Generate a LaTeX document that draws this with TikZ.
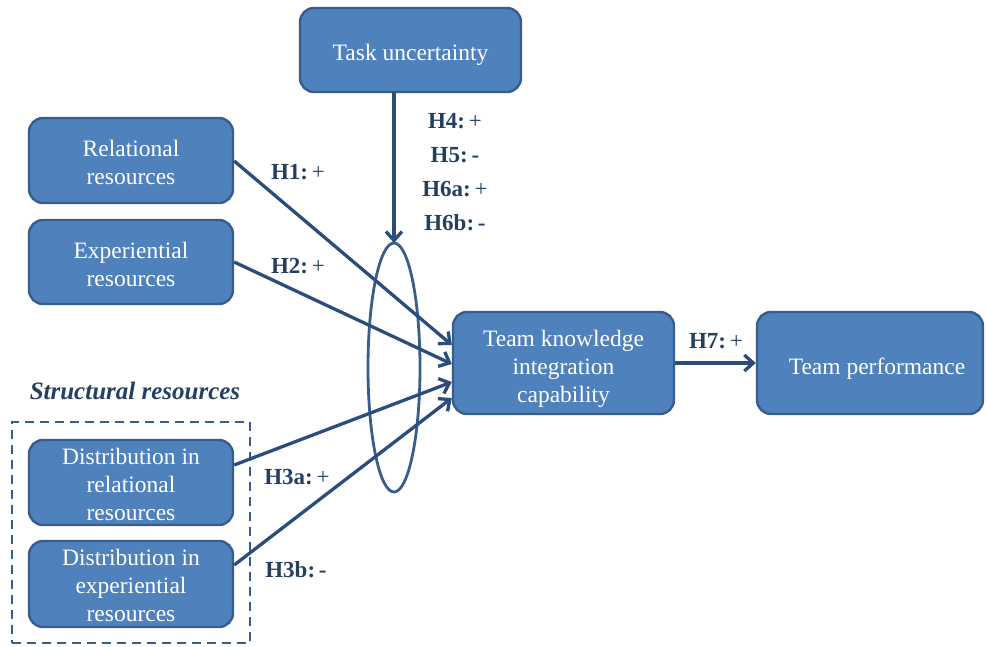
\documentclass[tikz,border=0pt]{standalone}
\usepackage{fontspec}
\setmainfont{Liberation Serif}
\usetikzlibrary{arrows.meta,shapes.geometric}
\definecolor{boxfill}{HTML}{4F81BD}
\definecolor{boxline}{HTML}{385D8A}
\definecolor{arr}{HTML}{2A4D7C}
\definecolor{lab}{HTML}{243F60}
\begin{document}
\begin{tikzpicture}[x=1pt,y=-1pt,
  box/.style={draw=boxline,fill=boxfill,line width=2.4pt,rounded corners=14pt,inner sep=0pt},
  bt/.style={text=white,align=center,font=\fontsize{23.5}{28}\selectfont,inner sep=0pt},
  conn/.style={draw=arr,line width=3.3pt,-{Straight Barb[length=9pt,width=16pt,line width=3.3pt]}},
  hyp/.style={text=lab,font=\fontsize{23}{24}\selectfont,inner sep=0pt},
]
\useasboundingbox (0,0) rectangle (986,646);
\node[box,minimum width=221pt,minimum height=84pt,
  label={[bt,yshift=-5pt]center:Task uncertainty}] (task) at (410.5,50) {};
\node[box,minimum width=204pt,minimum height=85pt,
  label={[bt,yshift=-2pt]center:Relational\\resources}] (rel) at (131,160.5) {};
\node[box,minimum width=204pt,minimum height=84pt,
  label={[bt,yshift=-2pt]center:Experiential\\resources}] (exp) at (131,262) {};
\node[box,minimum width=204pt,minimum height=85pt,
  label={[bt,yshift=-2pt]center:Distribution in\\relational\\resources}] (drel) at (131,482.5) {};
\node[box,minimum width=204pt,minimum height=86pt,
  label={[bt,yshift=-1.5pt]center:Distribution in\\experiential\\resources}] (dexp) at (131,584) {};
\node[box,minimum width=221pt,minimum height=102pt,
  label={[bt,yshift=-5.5pt]center:Team knowledge\\integration\\capability}] (tkic) at (563.5,363) {};
\node[box,minimum width=226pt,minimum height=102pt,
  label={[bt,yshift=-6pt,xshift=7pt]center:Team performance}] (perf) at (870,363) {};
\node[draw=boxline,line width=2.4pt,dash pattern=on 9pt off 6pt,minimum width=238pt,minimum height=221pt,inner sep=0pt] (struct) at (131,532.5) {};
\node[text=lab,font=\fontsize{25}{26}\selectfont\bfseries\itshape] (structlab) at (135,391) {Structural resources};
\node[draw=boxline,line width=2.8pt,ellipse,minimum width=52pt,minimum height=249pt,inner sep=0pt] (ell) at (394,367.5) {};
\coordinate (tdown) at (394,92);
\coordinate (etop) at (394,243);
\draw[conn] (tdown) -- (etop);
\draw[conn] (rel.east |- 0,161) -- (tkic.west |- 0,345);
\draw[conn] (exp.east) -- (tkic.west |- 0,364);
\draw[conn] (drel.east |- 0,465) -- (tkic.west |- 0,382);
\draw[conn] (dexp.east |- 0,565) -- (tkic.west |- 0,398);
\draw[conn] (tkic.east) -- (perf.west);
\node[hyp] (h1) at (298,172) {\textbf{H1:}\,+};
\node[hyp] (h2) at (298,266) {\textbf{H2:}\,+};
\node[hyp] (h3a) at (297,477) {\textbf{H3a:}\,+};
\node[hyp] (h3b) at (296,570) {\textbf{H3b:\,-}};
\node[hyp] (h4) at (455,121) {\textbf{H4:}\,+};
\node[hyp] (h5) at (455,155) {\textbf{H5:\,-}};
\node[hyp] (h6a) at (455,189) {\textbf{H6a:}\,+};
\node[hyp] (h6b) at (455,223) {\textbf{H6b:\,-}};
\node[hyp] (h7) at (716,341) {\textbf{H7:}\,+};
\end{tikzpicture}
\end{document}
